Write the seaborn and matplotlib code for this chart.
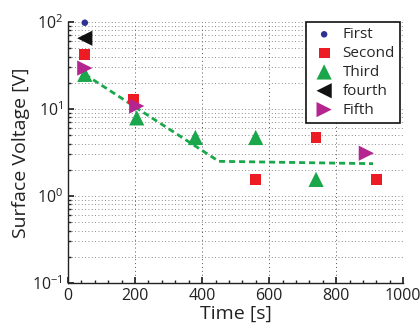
import matplotlib
matplotlib.use("Agg")
import matplotlib.pyplot as plt
from matplotlib.ticker import MultipleLocator, LogLocator, NullFormatter
import seaborn as sns
import pandas as pd

sns.set_theme(style="white")
plt.rcParams['font.family'] = ['Open Sans', 'DejaVu Sans']
plt.rcParams['mathtext.fontset'] = 'custom'
plt.rcParams['mathtext.rm'] = 'Open Sans'

# Measured surface voltage for each run
first_t = [50, 375]
first_v = [98, 4.2]
second_t = [50, 195, 560, 740, 920]
second_v = [42, 13, 1.55, 4.7, 1.55]
third_t = [50, 205, 380, 560, 740]
third_v = [25, 7.9, 4.7, 4.7, 1.55]
fourth_t = [50]
fourth_v = [65]
fifth_t = [50, 205, 890]
fifth_v = [29.5, 10.8, 3.1]

# Decay trend
trend_t = [50, 450, 910]
trend_v = [25, 2.5, 2.35]

series = [
    ("First", first_t, first_v, "o", "#2e3192", 22),
    ("Second", second_t, second_v, "s", "#ed1c24", 60),
    ("Third", third_t, third_v, "^", "#1aa64a", 120),
    ("fourth", fourth_t, fourth_v, "<", "#111111", 120),
    ("Fifth", fifth_t, fifth_v, ">", "#b5258f", 120),
]

fig = plt.figure(figsize=(4.2, 3.23), dpi=100)
ax = fig.add_axes([0.162, 0.124, 0.798, 0.808])

sns.lineplot(x=trend_t, y=trend_v, ax=ax, color="#1aa64a", lw=2.0,
             linestyle=(0, (2.2, 1.4)), zorder=2)

for name, t, v, m, c, s in series:
    df = pd.DataFrame({"t": t, "v": v})
    sns.scatterplot(data=df, x="t", y="v", ax=ax, marker=m, color=c, s=s,
                    edgecolor="none", linewidth=0, label=name, zorder=3,
                    clip_on=False)

ax.set_yscale("log")
ax.set_xlim(0, 1000)
ax.set_ylim(0.1, 100)
ax.xaxis.set_major_locator(MultipleLocator(200))
ax.xaxis.set_minor_locator(MultipleLocator(40))
ax.yaxis.set_major_locator(LogLocator(base=10, numticks=10))
ax.yaxis.set_minor_locator(LogLocator(base=10, subs=range(2, 10), numticks=20))
ax.yaxis.set_minor_formatter(NullFormatter())

ax.grid(True, which="major", axis="x", linestyle=(0, (1, 3)), color="#555555", lw=0.7)
ax.grid(True, which="both", axis="y", linestyle=(0, (1, 3)), color="#666666", lw=0.6)

for side in ("top", "right"):
    ax.spines[side].set_visible(False)
for side in ("left", "bottom"):
    ax.spines[side].set_color("#222222")
    ax.spines[side].set_linewidth(1.0)

ax.tick_params(axis="both", which="both", direction="in", colors="#222222",
               labelcolor="#222222", labelsize=11.5, left=True, bottom=True)
ax.tick_params(which="major", length=4)
ax.tick_params(which="minor", length=2)

ax.set_xlabel("Time [s]", fontsize=14, color="#222222", labelpad=1)
ax.set_ylabel("Surface Voltage [V]", fontsize=14, color="#222222", labelpad=2)

leg = ax.legend(loc="upper right", bbox_to_anchor=(0.991, 1.0), borderaxespad=0,
                frameon=True, fontsize=11, handletextpad=0.35, borderpad=0.35,
                labelspacing=0.25, handlelength=1.7, fancybox=False, framealpha=1)
leg.get_frame().set_edgecolor("#111111")
leg.get_frame().set_linewidth(1.2)

fig.savefig("out.png", dpi=100)
